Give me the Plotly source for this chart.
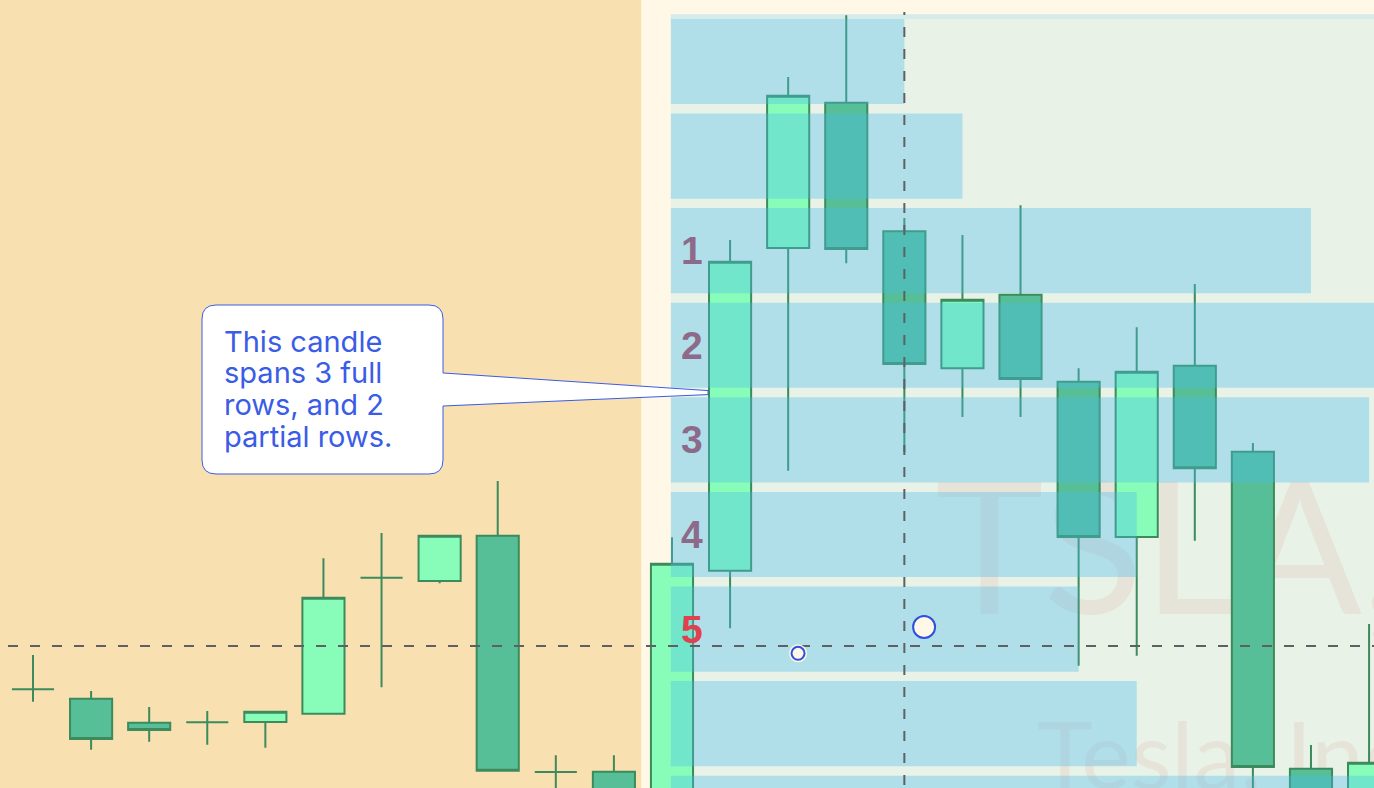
import plotly.graph_objects as go

# ---------------- data ----------------
bar_index = list(range(24))
opens = [218.64, 217.64, 215.10, 215.15, 215.18, 216.06, 230.43, 230.08, 234.87, 209.89, 209.92, 204.00,
         231.17, 265.28, 280.64, 267.05, 252.57, 260.35, 251.15, 234.73, 252.84, 243.75, 210.24, 204.50]
highs = [222.26, 218.46, 216.76, 216.34, 216.27, 232.48, 235.16, 234.87, 240.65, 211.66, 211.66, 234.70,
         266.13, 283.36, 289.90, 268.46, 266.66, 269.80, 252.57, 256.90, 261.48, 244.67, 212.75, 225.54]
lows = [217.32, 212.25, 213.10, 212.78, 212.46, 216.06, 218.85, 229.84, 210.03, 206.50, 205.00, 203.20,
        225.08, 241.74, 263.67, 243.72, 247.42, 247.42, 221.13, 222.19, 234.34, 206.90, 204.80, 203.90]
closes = [218.64, 213.38, 214.33, 215.15, 216.27, 228.32, 230.43, 234.87, 210.03, 209.89, 205.80, 231.91,
          263.84, 281.38, 265.18, 253.02, 259.82, 251.44, 234.73, 252.21, 242.00, 210.42, 205.50, 210.88]

# volume profile: rows of 10 price units, listed from the top row down
profile_top = 290.0
row_size = 10.0
profile_volume = [40, 50, 110, 140, 120, 80, 70, 80, 130]
profile_start = 11          # bar index where the profile begins
profile_span = 14           # bars covered by the largest row
row_labels = ["1", "2", "3", "4", "5"]
row_label_rows = [2, 3, 4, 5, 6]

# crosshair and touch points
cross_x = 15
cross_y = 223.2
touch_x = [13.17, 15.34]
touch_y = [222.44, 225.22]

callout_lines = ["This candle", "spans 3 full", "rows, and 2", "partial rows."]
callout_bar = 12
callout_price = 250.0

# ---------------- geometry of the view ----------------
W, H = 1374, 788
BAR0_PX, BAR_PX = 33.0, 58.09
PX_PER_UNIT = 9.46
TOP_PRICE = 291.5
x_range = [-BAR0_PX / BAR_PX, (W - BAR0_PX) / BAR_PX]
y_range = [TOP_PRICE - H / PX_PER_UNIT, TOP_PRICE]
BOXGAP = 0.275


def x_to_px(x):
    return BAR0_PX + x * BAR_PX


def y_to_px(y):
    return (TOP_PRICE - y) * PX_PER_UNIT


def paper(px, py):
    return px / W, 1 - py / H


UP_FILL = "#88FCB9"
DOWN_FILL = "#57BF97"
EDGE = "#3D8A5C"
ROW_FILL = "rgba(72,188,239,0.35)"
CROSS = "#5E6066"
BLUE = "#3A5CE6"

fig = go.Figure()
fig.add_trace(go.Candlestick(
    x=bar_index, open=opens, high=highs, low=lows, close=closes,
    name="TSLA",
    increasing=dict(fillcolor=UP_FILL, line=dict(color=EDGE, width=2)),
    decreasing=dict(fillcolor=DOWN_FILL, line=dict(color=EDGE, width=2)),
    whiskerwidth=0, showlegend=False, hoverinfo="skip",
))

shapes = []
# background regions
shapes.append(dict(type="rect", xref="x", yref="y", x0=x_range[0] - 1, x1=profile_start - 0.53,
                   y0=y_range[0] - 5, y1=y_range[1] + 5, fillcolor="#F8E0B1", line=dict(width=0),
                   layer="below"))
shapes.append(dict(type="rect", xref="x", yref="y", x0=profile_start - 0.02, x1=x_range[1] + 1,
                   y0=y_range[0] - 5, y1=profile_top, fillcolor="#E8F2E6", line=dict(width=0),
                   layer="below"))
shapes.append(dict(type="rect", xref="x", yref="y", x0=profile_start - 0.02, x1=x_range[1] + 1,
                   y0=profile_top - 0.5, y1=profile_top, fillcolor="#D6ECEA", line=dict(width=0),
                   layer="below"))

# watermark
wm_color = "#E6E4D9"
shapes.append(dict(type="rect", xref="x", yref="y", x0=(932 - BAR0_PX) / BAR_PX, x1=x_range[1] + 20,
                   y0=TOP_PRICE - 610 / PX_PER_UNIT, y1=TOP_PRICE - 470 / PX_PER_UNIT,
                   line=dict(width=0), fillcolor="rgba(0,0,0,0)", layer="below",
                   label=dict(text="TSLA, 1D", textposition="middle left", padding=0,
                              font=dict(family="Lato", size=184, color=wm_color))))
shapes.append(dict(type="rect", xref="x", yref="y", x0=(1034 - BAR0_PX) / BAR_PX, x1=x_range[1] + 20,
                   y0=TOP_PRICE - 786 / PX_PER_UNIT, y1=TOP_PRICE - 716 / PX_PER_UNIT,
                   line=dict(width=0), fillcolor="rgba(0,0,0,0)", layer="below",
                   label=dict(text="Tesla, Inc.", textposition="middle left", padding=0,
                              font=dict(family="Lato", size=94, color=wm_color))))

# volume profile rows (drawn over the candles)
vmax = max(profile_volume)
for i, vol in enumerate(profile_volume):
    hi = profile_top - i * row_size
    lo = hi - row_size
    shapes.append(dict(type="rect", xref="x", yref="y", x0=profile_start - 0.02,
                       x1=profile_start + vol / vmax * profile_span,
                       y0=lo + 0.5, y1=hi - 0.5, fillcolor=ROW_FILL, line=dict(width=0),
                       layer="above"))

# crosshair
shapes.append(dict(type="line", xref="x", yref="y", x0=cross_x, x1=cross_x,
                   y0=y_range[0] - 2, y1=TOP_PRICE - 12 / PX_PER_UNIT,
                   line=dict(color=CROSS, width=2, dash="10px,12px"), layer="above"))
shapes.append(dict(type="line", xref="x", yref="y", x0=(8 - BAR0_PX) / BAR_PX, x1=x_range[1] + 1,
                   y0=cross_y, y1=cross_y,
                   line=dict(color=CROSS, width=2, dash="10px,12px"), layer="above"))

# touch points
for tx, ty, d, halo in zip(touch_x, touch_y, [13, 22], [True, False]):
    if halo:
        shapes.append(dict(type="circle", xref="x", yref="y", xsizemode="pixel", ysizemode="pixel",
                           xanchor=tx, yanchor=ty, x0=-9, x1=9, y0=-9, y1=9,
                           fillcolor="#FBF6E6", line=dict(width=0), layer="above"))
    r = d / 2
    shapes.append(dict(type="circle", xref="x", yref="y", xsizemode="pixel", ysizemode="pixel",
                       xanchor=tx, yanchor=ty, x0=-r, x1=r, y0=-r, y1=r,
                       fillcolor="#FFF8E6", line=dict(color="#2F4FE0", width=2), layer="above"))

# callout bubble pointing at the candle's left edge
L, R, T, B, rad = 202, 443, 305, 474, 14
tip_x = x_to_px(callout_bar - (1 - BOXGAP) / 2) - 1
tip_y = y_to_px(callout_price)


def P(px, py):
    a, b = paper(px, py)
    return f"{a:.5f},{b:.5f}"


path = (f"M {P(L + rad, T)} L {P(R - rad, T)} Q {P(R, T)} {P(R, T + rad)} "
        f"L {P(R, 373)} L {P(tip_x, tip_y - 2)} L {P(tip_x, tip_y + 2)} L {P(R, 406)} "
        f"L {P(R, B - rad)} Q {P(R, B)} {P(R - rad, B)} L {P(L + rad, B)} "
        f"Q {P(L, B)} {P(L, B - rad)} L {P(L, T + rad)} Q {P(L, T)} {P(L + rad, T)} Z")
shapes.append(dict(type="path", xref="paper", yref="paper", path=path, fillcolor="white",
                   line=dict(color=BLUE, width=1), layer="above"))

annotations = []
for lab, row in zip(row_labels, row_label_rows):
    hi = profile_top - row * row_size
    annotations.append(dict(x=profile_start + 0.34, y=hi - row_size / 2, xref="x", yref="y",
                            text=f"<b>{lab}</b>", showarrow=False, xanchor="center", yanchor="middle",
                            font=dict(family="Liberation Sans", size=39,
                                      color="#E2404F" if lab == "5" else "#8D6A8A")))

fs = 29
for k, line in enumerate(callout_lines):
    base = 351.7 + 31.8 * k
    ax, ay = paper(222, base - 0.365 * fs)
    annotations.append(dict(x=ax, y=ay, xref="paper", yref="paper", text=line, showarrow=False,
                            xanchor="left", yanchor="middle",
                            font=dict(family="Inter", size=fs, color=BLUE)))

fig.update_layout(
    width=W, height=H, margin=dict(l=0, r=0, t=0, b=0),
    paper_bgcolor="#FFF8E6", plot_bgcolor="#FFF8E6",
    boxgap=BOXGAP, boxgroupgap=0,
    xaxis=dict(range=x_range, visible=False, showgrid=False, zeroline=False,
               rangeslider=dict(visible=False), fixedrange=True),
    yaxis=dict(range=y_range, visible=False, showgrid=False, zeroline=False, fixedrange=True),
    shapes=shapes, annotations=annotations, showlegend=False, hovermode=False,
)

fig.write_html("out.html", config={"displayModeBar": False})
